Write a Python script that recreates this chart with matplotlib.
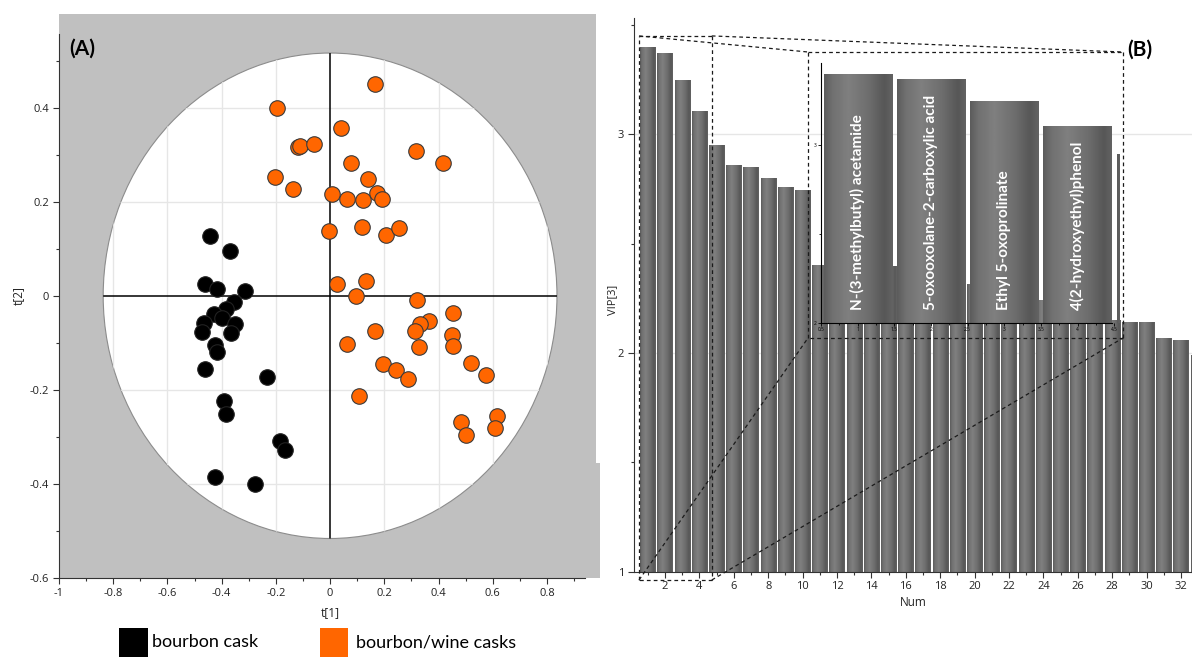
import numpy as np
import matplotlib
matplotlib.use('Agg')
import matplotlib.pyplot as plt
from matplotlib.patches import Ellipse, Rectangle
from matplotlib.lines import Line2D
from matplotlib.ticker import MultipleLocator, FuncFormatter

plt.rcParams['font.family'] = ['Open Sans', 'DejaVu Sans']
plt.rcParams['axes.unicode_minus'] = False

# scores plot (A)
bourbon_t1 = [-0.444, -0.371, -0.460, -0.417, -0.314, -0.356, -0.385, -0.427,
              -0.399, -0.465, -0.352, -0.474, -0.364, -0.426, -0.417, -0.460,
              -0.233, -0.390, -0.383, -0.185, -0.165, -0.424, -0.276]
bourbon_t2 = [0.126, 0.096, 0.026, 0.015, 0.011, -0.014, -0.029, -0.038,
              -0.048, -0.057, -0.060, -0.076, -0.079, -0.104, -0.120, -0.156,
              -0.173, -0.223, -0.252, -0.309, -0.327, -0.386, -0.401]
wine_t1 = [0.164, -0.195, -0.120, -0.112, -0.059, 0.040, 0.318, 0.416, 0.079,
           0.139, -0.204, -0.136, 0.007, 0.174, 0.061, 0.122, 0.191, -0.003,
           0.117, 0.208, 0.255, 0.027, 0.132, 0.096, 0.322, 0.455, 0.365,
           0.332, 0.313, 0.164, 0.451, 0.061, 0.327, 0.454, 0.194, 0.242,
           0.289, 0.519, 0.574, 0.107, 0.614, 0.482, 0.608, 0.502]
wine_t2 = [0.451, 0.400, 0.317, 0.318, 0.322, 0.357, 0.307, 0.282, 0.282,
           0.249, 0.252, 0.227, 0.217, 0.219, 0.205, 0.203, 0.205, 0.137,
           0.146, 0.130, 0.144, 0.025, 0.031, 0.000, -0.008, -0.036, -0.053,
           -0.060, -0.074, -0.074, -0.083, -0.103, -0.108, -0.106, -0.146,
           -0.158, -0.178, -0.143, -0.168, -0.213, -0.256, -0.268, -0.281,
           -0.295]
ell_a, ell_b = 0.837, 0.516
legend_names = ['bourbon cask', 'bourbon/wine casks']

# VIP plot (B)
vip = [3.398, 3.370, 3.247, 3.105, 2.950, 2.858, 2.849, 2.799, 2.758, 2.744,
       2.402, 2.401, 2.400, 2.399, 2.397, 2.37, 2.35, 2.34, 2.329, 2.315,
       2.29, 2.27, 2.255, 2.243, 2.20, 2.18, 2.16, 2.148, 2.143, 2.143,
       2.067, 2.059, 1.99]
compounds = ['N-(3-methylbutyl) acetamide', '5-oxooxolane-2-carboxylic acid',
             'Ethyl 5-oxoprolinate', '4(2-hydroxyethyl)phenol']

W, H = 1192, 657
fig = plt.figure(figsize=(W / 100, H / 100), dpi=100)


def box(l, t, r, b):
    return [l / W, 1 - b / H, (r - l) / W, (b - t) / H]


def fp(x, y):
    return (x / W, 1 - y / H)


fmt = FuncFormatter(lambda v, p: '%g' % round(v, 2))
tick_col = '#333333'

# ---------------- (A)
ax1 = fig.add_axes(box(59, 14, 596, 578))
ax1.set_facecolor('#c0c0c0')
ell = Ellipse((0, 0), 2 * ell_a, 2 * ell_b, facecolor='white',
              edgecolor='#8c8c8c', lw=0.8, zorder=0.5)
ax1.add_patch(ell)
for v in [-0.8, -0.6, -0.4, -0.2, 0.2, 0.4, 0.6, 0.8]:
    ln = ax1.axvline(v, color='#e6e6e6', lw=1, zorder=0.6)
    ln.set_clip_path(ell)
for v in [-0.4, -0.2, 0.2, 0.4]:
    ln = ax1.axhline(v, color='#e6e6e6', lw=1, zorder=0.6)
    ln.set_clip_path(ell)
for ln in [ax1.axvline(0, color='black', lw=1.1, zorder=0.7),
           ax1.axhline(0, color='black', lw=1.1, zorder=0.7)]:
    ln.set_clip_path(ell)

ax1.scatter(bourbon_t1, bourbon_t2, s=125, c='black', edgecolors='#222222',
            linewidths=0.8, zorder=3)
ax1.scatter(wine_t1, wine_t2, s=125, c='#ff6600', edgecolors='#3a3a3a',
            linewidths=0.8, zorder=3)

ax1.set_xlim(-1, 0.981)
ax1.set_ylim(-0.6, 0.599)
for s in ['top', 'right']:
    ax1.spines[s].set_visible(False)
ax1.spines['left'].set_bounds(-0.6, 0.556)
ax1.spines['bottom'].set_bounds(-1, 0.94)
for s in ['left', 'bottom']:
    ax1.spines[s].set_color(tick_col)
ax1.xaxis.set_major_locator(MultipleLocator(0.2))
ax1.xaxis.set_minor_locator(MultipleLocator(0.1))
ax1.yaxis.set_major_locator(MultipleLocator(0.2))
ax1.yaxis.set_minor_locator(MultipleLocator(0.1))
ax1.xaxis.set_major_formatter(fmt)
ax1.yaxis.set_major_formatter(fmt)
ax1.tick_params(which='major', length=4, width=0.8, color=tick_col,
                labelsize=8, labelcolor='#222222', pad=3)
ax1.tick_params(which='minor', length=2.5, width=0.8, color=tick_col)

fig.text(*fp(330, 613), 't[1]', ha='center', va='center', fontsize=8.5, color='#222222')
fig.text(*fp(18, 296), 't[2]', ha='center', va='center', rotation=90,
         fontsize=8.5, color='#222222')
fig.text(*fp(82, 49), '(A)', ha='center', va='center', fontsize=15,
         fontweight='bold', family=['Lato', 'DejaVu Sans'])
fig.add_artist(Rectangle(fp(596, 578), 4 / W, 115 / H, transform=fig.transFigure,
                         facecolor='#c0c0c0', edgecolor='none'))

# legend
fig.add_artist(Rectangle(fp(119, 657), 29 / W, 29 / H, transform=fig.transFigure,
                         facecolor='black', edgecolor='none'))
fig.add_artist(Rectangle(fp(320, 657), 28 / W, 29 / H, transform=fig.transFigure,
                         facecolor='#ff6600', edgecolor='none'))
fig.text(*fp(152, 642), legend_names[0], ha='left', va='center', fontsize=13,
         family=['Lato', 'DejaVu Sans'])
fig.text(*fp(356, 642), legend_names[1], ha='left', va='center', fontsize=13,
         family=['Lato', 'DejaVu Sans'])

# ---------------- (B)
gx = np.linspace(0, 1, 128)
gprof = np.interp(gx, [0, 0.12, 0.35, 0.65, 0.88, 1],
                  [0.36, 0.44, 0.50, 0.43, 0.34, 0.39])


def shade(ax, bars, xlim, ylim):
    # cylinder-like gradient inside each bar, cut to the axes limits
    for b in bars:
        x0, w, h = b.get_x(), b.get_width(), b.get_height()
        a, c = max(x0, xlim[0]), min(x0 + w, xlim[1])
        lo, hi = ylim[0], min(h, ylim[1])
        if c <= a or hi <= lo:
            continue
        sel = (gx >= (a - x0) / w) & (gx <= (c - x0) / w)
        g = gprof[sel] if sel.sum() > 1 else gprof[:2]
        ax.imshow(g[None, :], extent=[a, c, lo, hi], aspect='auto', cmap='gray',
                  vmin=0, vmax=1, interpolation='bilinear', zorder=2.1)


ax2 = fig.add_axes(box(634, 18, 1192, 571.7))
nums = np.arange(1, len(vip) + 1)
for v in [2, 3]:
    ax2.axhline(v, color='#e6e6e6', lw=1, zorder=1)
xl2, yl2 = (0.198, 32.64), (1, 3.532)
bars = ax2.bar(nums, vip, width=0.88, color='#5e5e5e', zorder=2)
shade(ax2, bars, xl2, yl2)
ax2.set_xlim(*xl2)
ax2.set_ylim(*yl2)
for s in ['top', 'right']:
    ax2.spines[s].set_visible(False)
for s in ['left', 'bottom']:
    ax2.spines[s].set_color(tick_col)
    ax2.spines[s].set_zorder(5)
ax2.xaxis.set_major_locator(MultipleLocator(2))
ax2.xaxis.set_minor_locator(MultipleLocator(1))
ax2.yaxis.set_major_locator(MultipleLocator(1))
ax2.yaxis.set_minor_locator(MultipleLocator(0.5))
ax2.xaxis.set_major_formatter(fmt)
ax2.yaxis.set_major_formatter(fmt)
ax2.tick_params(which='major', length=4, width=0.8, color=tick_col,
                labelsize=8, labelcolor='#222222', pad=3)
ax2.tick_params(which='minor', length=2.5, width=0.8, color=tick_col)
fig.text(*fp(613, 300), 'VIP[3]', ha='center', va='center', rotation=90,
         fontsize=8, color='#222222')
fig.text(*fp(913, 603), 'Num', ha='center', va='center', fontsize=8.5, color='#222222')
fig.text(*fp(1140, 50), '(B)', ha='center', va='center', fontsize=15,
         fontweight='bold', family=['Lato', 'DejaVu Sans'])

# inset zoom on the first bars
ax3 = fig.add_axes(box(821, 63, 1119, 322.7))
ax3.patch.set_alpha(0)
xl3, yl3 = (0.5, 4.565), (2, 3.46)
ibars = ax3.bar(nums[:5], vip[:5], width=0.93, color='#5e5e5e', zorder=2)
shade(ax3, ibars, xl3, yl3)
ax3.set_xlim(*xl3)
ax3.set_ylim(*yl3)
for s in ['top', 'right']:
    ax3.spines[s].set_visible(False)
ax3.spines['bottom'].set_bounds(0.5, 4.47)
ax3.xaxis.set_major_locator(MultipleLocator(0.5))
ax3.xaxis.set_minor_locator(MultipleLocator(0.25))
ax3.yaxis.set_major_locator(MultipleLocator(1))
ax3.yaxis.set_minor_locator(MultipleLocator(0.5))
ax3.xaxis.set_major_formatter(fmt)
ax3.yaxis.set_major_formatter(fmt)
ax3.tick_params(which='major', length=2, width=0.6, labelsize=3.5, pad=1)
ax3.tick_params(which='minor', length=1.2, width=0.6)
for i, name in enumerate(compounds):
    ax3.text(i + 1, 2.07, name, rotation=90, ha='center', va='bottom', color='white',
             fontsize=11, fontweight='bold', family=['Lato', 'DejaVu Sans'], zorder=4)

# dashed zoom guides
inv = fig.transFigure.inverted()


def d2f(ax, x, y):
    return inv.transform(ax.transData.transform((x, y)))


def dline(p0, p1):
    fig.add_artist(Line2D([p0[0], p1[0]], [p0[1], p1[1]], transform=fig.transFigure,
                          color='#1a1a1a', lw=0.9, ls=(0, (3, 2.5)), zorder=10))


s_tl, s_tr = d2f(ax2, 0.49, 3.45), d2f(ax2, 4.72, 3.45)
s_bl, s_br = d2f(ax2, 0.49, 0.962), d2f(ax2, 4.72, 0.962)
b_tl, b_tr, b_bl, b_br = fp(808, 52), fp(1123, 52), fp(808, 338), fp(1123, 338)
for a, b in [(s_tl, s_tr), (s_tr, s_br), (s_br, s_bl), (s_bl, s_tl),
             (b_tl, b_tr), (b_tr, b_br), (b_br, b_bl), (b_bl, b_tl),
             (s_tl, b_tl), (s_tr, b_tr), (s_bl, b_bl), (s_br, b_br)]:
    dline(a, b)

fig.savefig('out.png', dpi=100)
